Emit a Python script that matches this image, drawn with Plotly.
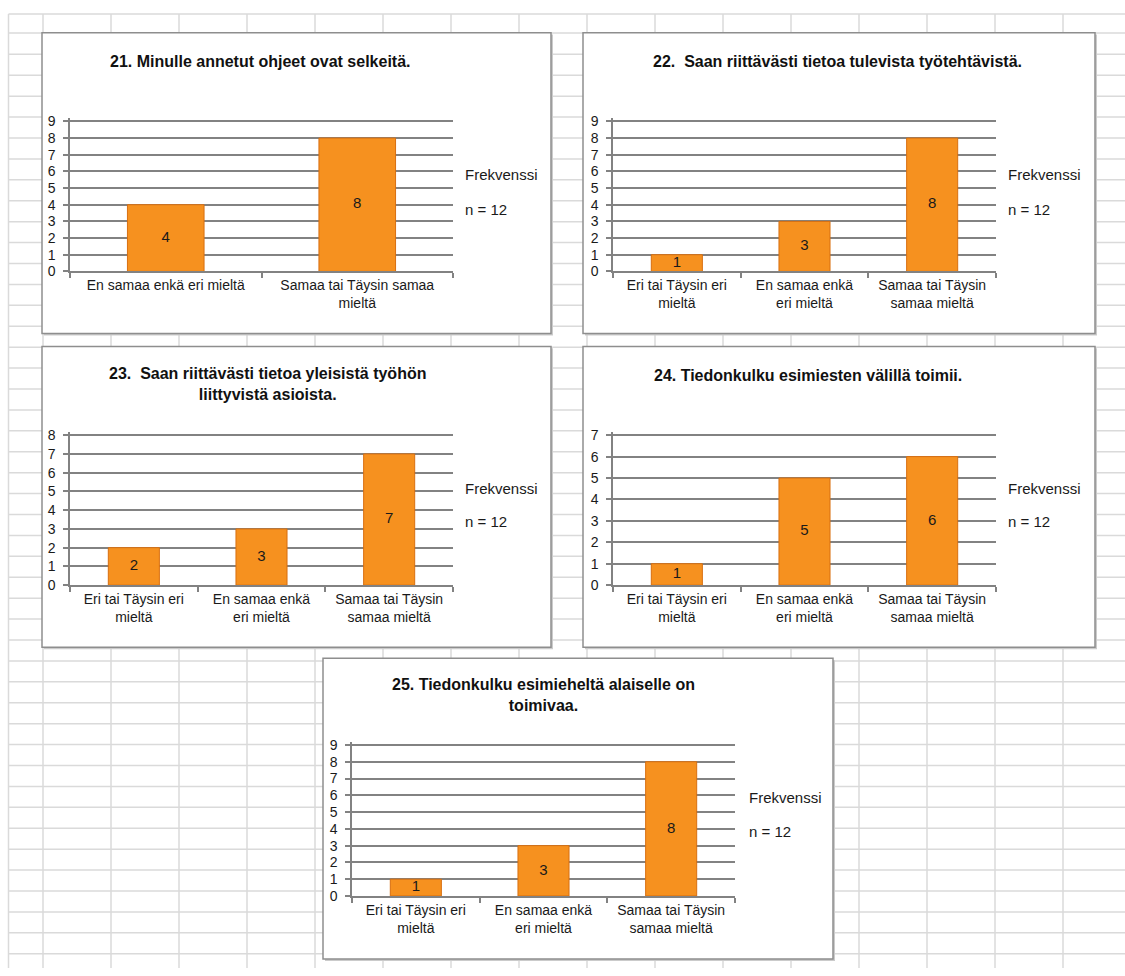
import plotly.graph_objects as go

# ---------------- data ----------------
titles = [
    "21. Minulle annetut ohjeet ovat selkeitä.",
    "22.  Saan riittävästi tietoa tulevista työtehtävistä.",
    "23.  Saan riittävästi tietoa yleisistä työhön<br>liittyvistä asioista.",
    "24. Tiedonkulku esimiesten välillä toimii.",
    "25. Tiedonkulku esimieheltä alaiselle on<br>toimivaa.",
]
cats_two = ["En samaa enkä eri mieltä", "Samaa tai Täysin samaa mieltä"]
ticks_two = ["En samaa enkä eri mieltä", "Samaa tai Täysin samaa<br>mieltä"]
cats_three = ["Eri tai Täysin eri mieltä", "En samaa enkä eri mieltä", "Samaa tai Täysin samaa mieltä"]
ticks_three = ["Eri tai Täysin eri<br>mieltä", "En samaa enkä<br>eri mieltä", "Samaa tai Täysin<br>samaa mieltä"]

values_21 = [4, 8]
values_22 = [1, 3, 8]
values_23 = [2, 3, 7]
values_24 = [1, 5, 6]
values_25 = [1, 3, 8]
y_max = [9, 9, 8, 7, 9]
legend_label = "Frekvenssi"
n_label = "n = 12"

# ---------------- layout helpers ----------------
W, H = 1125, 976
def X(px):
    return px / W
def Y(py):
    return 1 - py / H

charts = [
    dict(cats=cats_two, ticks=ticks_two, vals=values_21, ymax=y_max[0], title=titles[0],
         box=(42, 28, 551, 333), plot=(70, 118, 453, 270), title_xy=(260, 57), leg_x=463, leg_y=(172, 207)),
    dict(cats=cats_three, ticks=ticks_three, vals=values_22, ymax=y_max[1], title=titles[1],
         box=(583, 28, 1095, 333), plot=(613, 118, 996, 270), title_xy=(837, 57), leg_x=1006, leg_y=(172, 207)),
    dict(cats=cats_three, ticks=ticks_three, vals=values_23, ymax=y_max[2], title=titles[2],
         box=(42, 346, 551, 651), plot=(70, 436, 453, 588), title_xy=(267, 384), leg_x=463, leg_y=(490, 523)),
    dict(cats=cats_three, ticks=ticks_three, vals=values_24, ymax=y_max[3], title=titles[3],
         box=(583, 346, 1095, 651), plot=(613, 436, 996, 588), title_xy=(808, 375), leg_x=1006, leg_y=(490, 523)),
    dict(cats=cats_three, ticks=ticks_three, vals=values_25, ymax=y_max[4], title=titles[4],
         box=(323, 662, 833, 967), plot=(352, 750, 735, 903), title_xy=(543, 699), leg_x=747, leg_y=(803, 838)),
]

FONT = "Liberation Sans, Arial, sans-serif"
BAR_COLOR = "#F6911F"
BAR_EDGE = "#D86F10"
GRID = "#828282"
TXT = "#1A1A1A"
PAD = 3  # px of headroom so the top gridline is not clipped away

fig = go.Figure()
shapes = []
annotations = []

# spreadsheet background grid
sheet_line = dict(color="#DADADA", width=1.5)
col_x = [8.5] + [43 + 68 * k for k in range(16)]
row_y = [9, 28.5] + [50 + 21.2 * k for k in range(44)]
for cx in col_x:
    if cx <= W:
        shapes.append(dict(type="line", xref="paper", yref="paper", x0=X(cx), x1=X(cx),
                           y0=Y(9), y1=0, line=sheet_line, layer="below"))
for ry in row_y:
    if ry <= H:
        shapes.append(dict(type="line", xref="paper", yref="paper", x0=X(8.5), x1=1,
                           y0=Y(ry), y1=Y(ry), line=sheet_line, layer="below"))

for i, c in enumerate(charts, start=1):
    xa = "x" if i == 1 else f"x{i}"
    ya = "y" if i == 1 else f"y{i}"
    bx0, by0, bx1, by1 = c["box"]
    # chart box (shadow + frame)
    shapes.append(dict(type="rect", xref="paper", yref="paper", x0=X(bx0 + 2), x1=X(bx1 + 2),
                       y0=Y(by1 + 2), y1=Y(by0 + 2), fillcolor="#CBCBCB",
                       line=dict(width=0), layer="below"))
    shapes.append(dict(type="rect", xref="paper", yref="paper", x0=X(bx0), x1=X(bx1),
                       y0=Y(by1), y1=Y(by0), fillcolor="white",
                       line=dict(color="#8E8E8E", width=1.5), layer="below"))

    fig.add_trace(go.Bar(
        x=c["cats"], y=c["vals"], xaxis=xa, yaxis=ya,
        marker=dict(color=BAR_COLOR, line=dict(color=BAR_EDGE, width=1)),
        showlegend=False, hoverinfo="x+y",
    ))
    fig.add_trace(go.Scatter(
        x=c["cats"], y=[v / 2 for v in c["vals"]], xaxis=xa, yaxis=ya,
        mode="text", text=[str(v) for v in c["vals"]],
        textfont=dict(family=FONT, size=15, color=TXT),
        showlegend=False, hoverinfo="skip",
    ))

    px0, py0, px1, py1 = c["plot"]
    extra_units = PAD * c["ymax"] / (py1 - py0)
    xkey = "xaxis" if i == 1 else f"xaxis{i}"
    ykey = "yaxis" if i == 1 else f"yaxis{i}"
    fig.layout[xkey] = dict(
        domain=[X(px0), X(px1)], anchor=ya, type="category",
        categoryorder="array", categoryarray=c["cats"],
        tickmode="array", tickvals=c["cats"], ticktext=c["ticks"],
        tickson="boundaries", ticks="outside", ticklen=5, tickcolor=GRID, tickwidth=1.5,
        showline=True, linecolor=GRID, linewidth=1.5, showgrid=False, zeroline=False,
        tickfont=dict(family=FONT, size=14, color=TXT), fixedrange=True,
    )
    fig.layout[ykey] = dict(
        domain=[Y(py1), Y(py0 - PAD)], anchor=xa, range=[0, c["ymax"] + extra_units],
        tickmode="linear", tick0=0, dtick=1,
        ticks="outside", ticklen=5, tickcolor=GRID, tickwidth=1.5,
        showline=True, linecolor=GRID, linewidth=1.5,
        showgrid=True, gridcolor=GRID, gridwidth=2, zeroline=False,
        ticklabelstandoff=5,
        tickfont=dict(family=FONT, size=14, color=TXT), fixedrange=True,
    )

    tx, ty = c["title_xy"]
    annotations.append(dict(xref="paper", yref="paper", x=X(tx), y=Y(ty), xanchor="center", yanchor="middle",
                            text="<b>" + c["title"] + "</b>", showarrow=False,
                            font=dict(family=FONT, size=16, color="#111111")))
    annotations.append(dict(xref="paper", yref="paper", x=X(c["leg_x"]), y=Y(c["leg_y"][0]),
                            xanchor="left", yanchor="middle", text=legend_label, showarrow=False,
                            font=dict(family=FONT, size=15, color=TXT)))
    annotations.append(dict(xref="paper", yref="paper", x=X(c["leg_x"]), y=Y(c["leg_y"][1]),
                            xanchor="left", yanchor="middle", text=n_label, showarrow=False,
                            font=dict(family=FONT, size=15, color=TXT)))

fig.update_layout(
    width=W, height=H, margin=dict(l=0, r=0, t=0, b=0),
    paper_bgcolor="white", plot_bgcolor="rgba(0,0,0,0)",
    bargap=0.6, showlegend=False,
    shapes=shapes, annotations=annotations,
    font=dict(family=FONT, size=14, color=TXT),
)

fig.write_html("out.html")
